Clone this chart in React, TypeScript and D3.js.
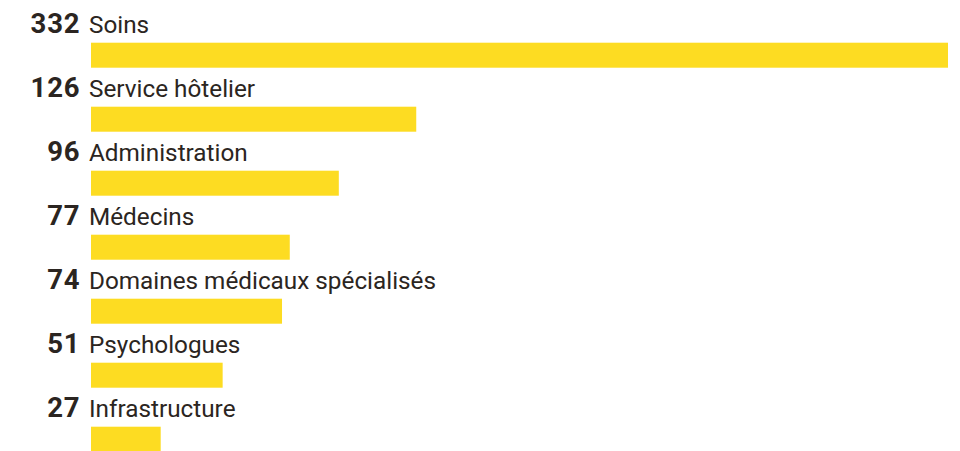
import React from 'react';
import * as d3 from 'd3';

const categories = [
  'Soins',
  'Service hôtelier',
  'Administration',
  'Médecins',
  'Domaines médicaux spécialisés',
  'Psychologues',
  'Infrastructure'
];
const values = [332, 126, 96, 77, 74, 51, 27];

const width = 960;
const height = 451;
const barColor = '#FDDC22';
const textColor = '#2B2521';

export default function App() {
  const x = d3.scaleLinear().domain([0, 332]).range([91, 948]);
  const y = d3.scaleBand<string>().domain(categories).range([0, 448]);
  const barTop = 42.7;
  const barH = 25;

  return (
    <>
      <style>{`body{margin:0}`}</style>
      <svg width={width} height={height} style={{ display: 'block', background: '#fff' }}>
        {categories.map((c, i) => {
          const top = (y(c) ?? 0) + barTop;
          return (
            <g key={c}>
              {/* letter-spacing leaves a trailing gap, so anchor a bit further right */}
              <text
                x={80.3}
                y={top - 9.5}
                textAnchor="end"
                fontFamily="Roboto"
                fontWeight={700}
                fontSize={27.5}
                letterSpacing={0.8}
                fill={textColor}
              >
                {values[i]}
              </text>
              <text
                x={89}
                y={top - 9.5}
                fontFamily="Roboto"
                fontSize={24.3}
                fill={textColor}
              >
                {c}
              </text>
              <rect x={x(0)} y={top} width={x(values[i]) - x(0)} height={barH} fill={barColor} />
            </g>
          );
        })}
      </svg>
    </>
  );
}
